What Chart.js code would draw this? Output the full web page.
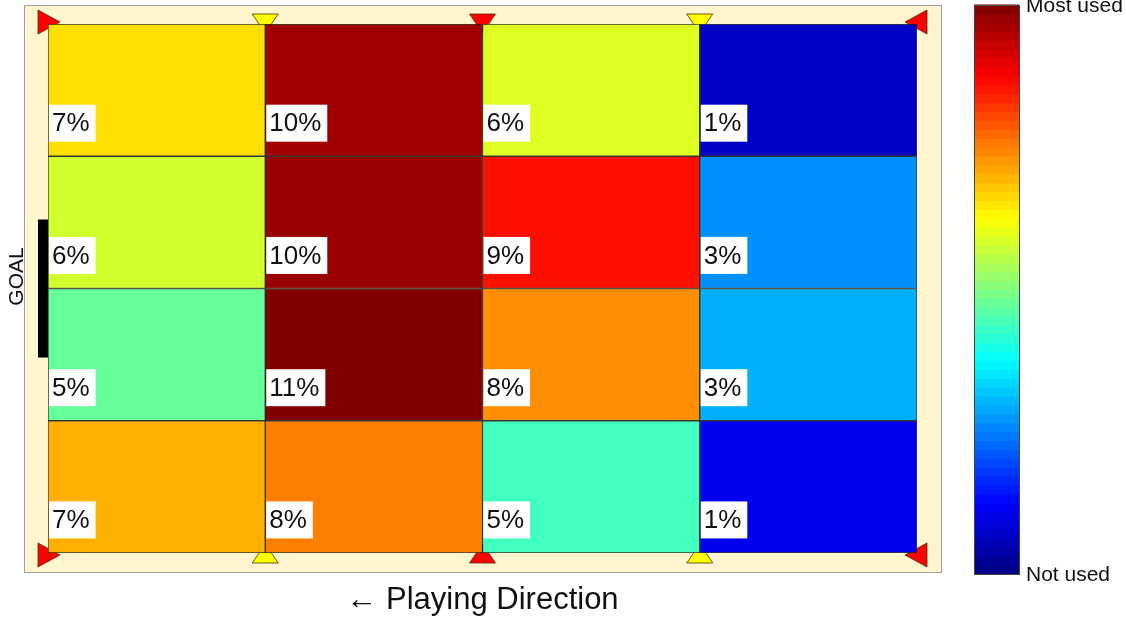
<!DOCTYPE html>
<html>
<head>
<meta charset="utf-8">
<title>Zone usage</title>
<script src="https://cdn.jsdelivr.net/npm/chart.js@4.4.1/dist/chart.umd.min.js"></script>
<style>
  html, body { margin: 0; padding: 0; background: #fff; }
  #wrap { width: 1126px; height: 619px; position: relative; }
</style>
</head>
<body>
<div id="wrap"><canvas id="pitch"></canvas></div>
<script>
// zones along the pitch (goal on the left)
var zones = ["Zone 1", "Zone 2", "Zone 3", "Zone 4"];
// lanes from top to bottom
var lanes = ["Lane 1", "Lane 2", "Lane 3", "Lane 4"];

// usage share (%) of every lane, one value per zone
var lane1Usage = [6.96, 10.26, 6.28, 0.74];
var lane2Usage = [6.15, 10.34, 9.12, 2.81];
var lane3Usage = [5.04, 10.6, 7.79, 3.15];
var lane4Usage = [7.45, 7.95, 4.64, 1.17];

var colorbarLabels = ["Most used", "Not used"];
var xTitle = "\u2190 Playing Direction";
var yTitle = "GOAL";

var FONT = "'Liberation Sans', Arial, sans-serif";

//funzione colormap jet
function clamp(v) {
  return Math.max(0, Math.min(1, v));
}

function jet(t) {
  t = clamp(t);
  var r = clamp(1.5 - Math.abs(4 * t - 3));
  var g = clamp(1.5 - Math.abs(4 * t - 2));
  var b = clamp(1.5 - Math.abs(4 * t - 1));
  return "rgb(" + Math.round(r * 255) + "," + Math.round(g * 255) + "," + Math.round(b * 255) + ")";
}

var usageByLane = [lane1Usage, lane2Usage, lane3Usage, lane4Usage];
var maxUsage = Math.max.apply(null, [].concat(lane1Usage, lane2Usage, lane3Usage, lane4Usage));

// one floating bar per cell, lane 1 sits on top
var datasets = usageByLane.map(function(values, i) {
  var bottom = lanes.length - 1 - i;
  return {
    label: lanes[i],
    data: values.map(function() { return [bottom, bottom + 1]; }),
    usage: values,
    backgroundColor: values.map(function(v) { return jet(v / maxUsage); }),
    borderColor: "rgba(25,25,25,0.85)",
    borderWidth: 1,
    borderSkipped: false,
    grouped: false,
    barPercentage: 1,
    categoryPercentage: 1
  };
});

//funzione per disegnare un triangolo
function tri(ctx, pts, fill) {
  ctx.beginPath();
  ctx.moveTo(pts[0][0], pts[0][1]);
  ctx.lineTo(pts[1][0], pts[1][1]);
  ctx.lineTo(pts[2][0], pts[2][1]);
  ctx.closePath();
  ctx.fillStyle = fill;
  ctx.fill();
  ctx.strokeStyle = "rgba(70,50,0,0.8)";
  ctx.lineWidth = 1;
  ctx.stroke();
}

var pitchPlugin = {
  id: "pitch",
  beforeDatasetsDraw: function(chart) {
    var ctx = chart.ctx;
    var a = chart.chartArea;
    var xs = chart.scales.x;
    ctx.save();

    // field
    ctx.fillStyle = "#fff6d0";
    ctx.fillRect(a.left - 24, a.top - 19, a.right - a.left + 49, a.bottom - a.top + 39);
    ctx.strokeStyle = "#a0a0a0";
    ctx.lineWidth = 1;
    ctx.strokeRect(a.left - 23.5, a.top - 18.5, a.right - a.left + 48, a.bottom - a.top + 38);

    // markers on the side lines
    var top = a.top - 2, bot = a.bottom + 2;
    [0.5, 1.5, 2.5].forEach(function(v, k) {
      var x = xs.getPixelForValue(v);
      var col = k === 1 ? "#ff0000" : "#ffff00";
      tri(ctx, [[x - 13, a.top - 10], [x + 13, a.top - 10], [x, a.top + 9]], col);
      tri(ctx, [[x - 13, a.bottom + 10], [x + 13, a.bottom + 10], [x, a.bottom - 9]], col);
    });

    // corner markers
    var xl = xs.getPixelForValue(-0.5), xr = xs.getPixelForValue(3.5);
    tri(ctx, [[xl - 10, top - 12], [xl - 10, top + 12], [xl + 12, top]], "#ff0000");
    tri(ctx, [[xl - 10, bot - 12], [xl - 10, bot + 12], [xl + 12, bot]], "#ff0000");
    tri(ctx, [[xr + 10, top - 12], [xr + 10, top + 12], [xr - 12, top]], "#ff0000");
    tri(ctx, [[xr + 10, bot - 12], [xr + 10, bot + 12], [xr - 12, bot]], "#ff0000");
    ctx.restore();
  },
  afterDatasetsDraw: function(chart) {
    var ctx = chart.ctx;
    var a = chart.chartArea;
    ctx.save();

    // percentage labels
    ctx.font = "26px " + FONT;
    ctx.textBaseline = "middle";
    ctx.textAlign = "left";
    chart.data.datasets.forEach(function(ds, i) {
      var meta = chart.getDatasetMeta(i);
      meta.data.forEach(function(el, j) {
        var txt = Math.round(ds.usage[j]) + "%";
        var left = el.x - el.width / 2;
        var h = el.base - el.y;
        var cy = el.base - 0.25 * h;
        var w = ctx.measureText(txt).width + 9;
        ctx.fillStyle = "#ffffff";
        ctx.fillRect(left + 1, cy - 18.5, w, 37);
        ctx.fillStyle = "#111111";
        ctx.fillText(txt, left + 4, cy + 1);
      });
    });

    // goal
    var cy = (a.top + a.bottom) / 2;
    ctx.fillStyle = "#000000";
    ctx.fillRect(a.left - 10, cy - 69, 10, 138);
    ctx.restore();
  },
  afterDraw: function(chart) {
    var ctx = chart.ctx;
    var a = chart.chartArea;
    ctx.save();

    // colorbar
    var cx = a.right + 57, cw = 45;
    var ct = a.top - 19, cb = a.bottom + 21;
    var n = 64, step = (cb - ct) / n;
    for (var k = 0; k < n; k++) {
      ctx.fillStyle = jet((k + 0.5) / n);
      ctx.fillRect(cx, cb - (k + 1) * step - 0.5, cw, step + 1);
    }
    ctx.strokeStyle = "#444444";
    ctx.lineWidth = 1;
    ctx.strokeRect(cx + 0.5, ct + 0.5, cw, cb - ct);

    ctx.fillStyle = "#111111";
    ctx.font = "21px " + FONT;
    ctx.textBaseline = "middle";
    ctx.textAlign = "left";
    ctx.fillText(colorbarLabels[0], cx + cw + 7, ct + 1);
    ctx.fillText(colorbarLabels[1], cx + cw + 7, cb + 1);

    // axis titles
    ctx.font = "31px " + FONT;
    ctx.textAlign = "center";
    ctx.fillText(xTitle, (a.left + a.right) / 2, a.bottom + 47);

    ctx.translate(a.left - 31, (a.top + a.bottom) / 2 - 12);
    ctx.rotate(-Math.PI / 2);
    ctx.font = "21px " + FONT;
    ctx.fillText(yTitle, 0, 0);
    ctx.restore();
  }
};

var heatmap = new Chart(document.getElementById("pitch"), {
  type: "bar",
  data: {
    labels: zones,
    datasets: datasets
  },
  options: {
    responsive: true,
    maintainAspectRatio: false,
    animation: false,
    layout: {
      padding: { left: 48, top: 24, right: 209, bottom: 66 }
    },
    scales: {
      x: { type: "category", display: false },
      y: { min: 0, max: lanes.length, display: false }
    },
    plugins: {
      legend: { display: false },
      tooltip: { enabled: false }
    }
  },
  plugins: [pitchPlugin]
});
</script>
</body>
</html>
